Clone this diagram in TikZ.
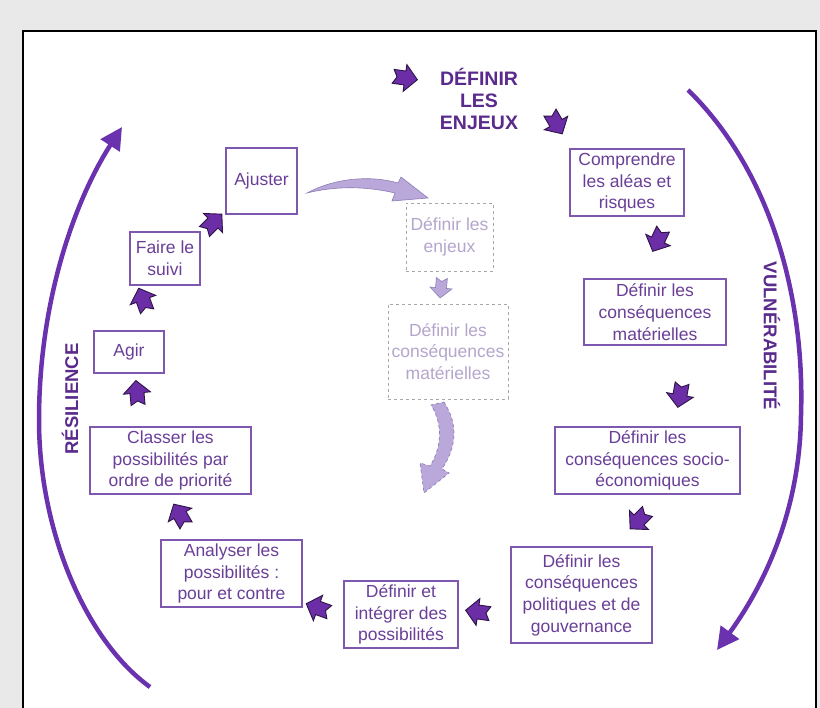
\documentclass[tikz,border=0pt]{standalone}
\usepackage{fontspec}
\setmainfont{Liberation Sans}
\usetikzlibrary{arrows.meta}
\definecolor{txtp}{HTML}{6A3F98}
\definecolor{boxp}{HTML}{7E57AE}
\definecolor{arcp}{HTML}{6A32AE}
\definecolor{arrf}{HTML}{6C2EA6}
\definecolor{arrd}{HTML}{2E1446}
\definecolor{titp}{HTML}{5A2A8C}
\definecolor{ghostt}{HTML}{B4A6CC}
\definecolor{ghostb}{HTML}{A8A8A8}
\definecolor{ghostf}{HTML}{B9A8D9}
\definecolor{ghostd}{HTML}{8E7DB6}
\definecolor{bgc}{HTML}{E9E9E9}
\tikzset{
  blk/.pic={\filldraw[fill=arrf, draw=arrd, line width=0.9pt, line join=miter]
    (-12,7) -- (0,7) -- (0,13.5) -- (12.5,0) -- (0,-13.5) -- (0,-7) -- (-12,-7) -- (-8,0) -- cycle;},
  ghostblk/.pic={\filldraw[fill=ghostf, draw=ghostd, line width=0.6pt, line join=miter]
    (-10,5.5) -- (0,5.5) -- (0,11) -- (10,0) -- (0,-11) -- (0,-5.5) -- (-10,-5.5) -- (-6.5,0) -- cycle;}
}
\begin{document}
\begin{tikzpicture}[x=1pt,y=-1pt,
  stepbox/.style={draw=boxp, line width=1.1pt, text=txtp, align=center, inner sep=0pt,
    font=\fontsize{17.5}{21.7}\selectfont},
  ghostbox/.style={draw=ghostb, dashed, line width=0.9pt, text=ghostt, align=center, inner sep=0pt,
    font=\fontsize{17.5}{21.7}\selectfont},
  titletext/.style={text=titp, align=center, inner sep=0pt, font=\bfseries\fontsize{19.5}{22}\selectfont},
  sidetext/.style={text=titp, inner sep=0pt, font=\bfseries\fontsize{18.5}{22}\selectfont},
  bigarc/.style={draw=arcp, line width=4.5pt, -{Triangle[length=22pt,width=22pt]}}
]
\useasboundingbox (0,0) rectangle (820,708);
\fill[bgc] (0,0) rectangle (820,708);
\begin{scope}
  \clip (0,0) rectangle (820,708);
  \draw[line width=2.5pt, fill=white] (23,31) rectangle (816,740);
\end{scope}

% titles
\node[titletext] (titre) at (479,99) {DÉFINIR\\LES\\ENJEUX};
\node[sidetext, rotate=-90] (vuln) at (772,336) {VULNÉRABILITÉ};
\node[sidetext, rotate=90] (resil) at (70,399) {RÉSILIENCE};

% boxes
\node[stepbox, minimum width=114pt, minimum height=67pt] (comp) at (627,182.5) {Comprendre\\les aléas et\\risques};
\node[stepbox, minimum width=142pt, minimum height=66pt] (mat) at (655,312) {Définir les\\conséquences\\matérielles};
\node[stepbox, minimum width=185pt, minimum height=67pt] (socio) at (647.5,460.5) {Définir les\\conséquences socio-\\économiques};
\node[stepbox, minimum width=141pt, minimum height=96pt] (pol) at (581.5,595) {Définir les\\conséquences\\politiques et de\\gouvernance};
\node[stepbox, minimum width=114pt, minimum height=67pt] (integ) at (401,614.5) {Définir et\\intégrer des\\possibilités};
\node[stepbox, minimum width=141pt, minimum height=67pt] (analy) at (231.5,573.5) {Analyser les\\possibilités :\\pour et contre};
\node[stepbox, minimum width=161pt, minimum height=67pt] (classer) at (170.5,460.5) {Classer les\\possibilités par\\ordre de priorité};
\node[stepbox, minimum width=70pt, minimum height=42pt] (agir) at (129,352) {Agir};
\node[stepbox, minimum width=70pt, minimum height=53pt] (suivi) at (165,258.5) {Faire le\\suivi};
\node[stepbox, minimum width=71pt, minimum height=66pt] (ajuster) at (261.5,181) {Ajuster};
\node[ghostbox, minimum width=87pt, minimum height=68pt] (g1) at (449.5,237) {Définir les\\enjeux};
\node[ghostbox, minimum width=120pt, minimum height=95pt] (g2) at (448,351.5) {Définir les\\conséquences\\matérielles};

% small block arrows
\pic[rotate=-8] at (405,78) {blk};
\pic[rotate=-60] at (556,123) {blk};
\pic[rotate=-115] at (658,240) {blk};
\pic[rotate=-100] at (680,395) {blk};
\pic[rotate=-135] at (639,520) {blk};
\pic[rotate=172] at (478,612) {blk};
\pic[rotate=160] at (318,608) {blk};
\pic[rotate=120] at (180,515) {blk};
\pic[rotate=95] at (137,393) {blk};
\pic[rotate=110] at (143,300) {blk};
\pic[rotate=45] at (213,223) {blk};
\pic[rotate=-95] at (441,288) {ghostblk};

% light curved arrow from Ajuster
\filldraw[fill=ghostf, draw=ghostd, line width=0.6pt, line join=miter]
  (307,193) .. controls (335,178) and (370,175) .. (398,183) -- (401,177) -- (428,198)
  -- (392,201) -- (395,193) .. controls (365,186) and (335,186) .. (307,193) -- cycle;

% dashed curved arrow below ghost box
\filldraw[fill=ghostf, draw=ghostd, line width=0.7pt, dashed, line join=miter]
  (444,402) .. controls (459,425) and (456,448) .. (442,469) -- (449,473) -- (424,493)
  -- (420,463) -- (430,466) .. controls (442,447) and (443,424) .. (431,405) -- cycle;

% big arcs
\coordinate (lA) at (150,687);
\coordinate (lB) at (39,420);
\coordinate (lC) at (122,127);
\draw[bigarc] (lA) .. controls (85,640) and (39,530) .. (lB) .. controls (39,300) and (75,200) .. (lC);
\coordinate (rA) at (688,90);
\coordinate (rB) at (801,415);
\coordinate (rC) at (717,650);
\draw[bigarc] (rA) .. controls (768,168) and (805,292) .. (rB) .. controls (800,522) and (755,598) .. (rC);
\end{tikzpicture}
\end{document}
